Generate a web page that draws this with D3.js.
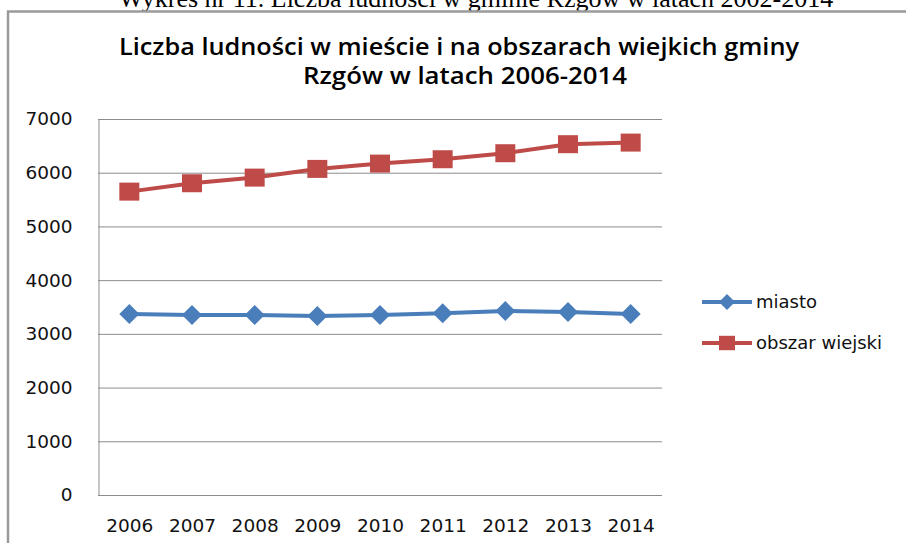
<!DOCTYPE html>
<html lang="pl">
<head>
<meta charset="UTF-8">
<title>Liczba ludności gminy Rzgów</title>
<style>
  html, body { margin: 0; padding: 0; background: #fff; }
  svg { display: block; }
</style>
</head>
<body>
<div id="chart"></div>
<script src="https://d3js.org/d3.v7.min.js"></script>
<script>
const years = ['2006', '2007', '2008', '2009', '2010', '2011', '2012', '2013', '2014'];
const miasto = [3370, 3352, 3352, 3333, 3352, 3383, 3426, 3408, 3370];
const obszarWiejski = [5648, 5804, 5909, 6071, 6170, 6251, 6363, 6531, 6561];
const yTicks = [0, 1000, 2000, 3000, 4000, 5000, 6000, 7000];
const seriesNames = ['miasto', 'obszar wiejski'];

const W = 906, H = 543;
const plot = { left: 98, right: 662, top: 119, bottom: 495 };

const svg = d3.select('#chart').append('svg')
  .attr('width', W).attr('height', H);

// caption of the document, cut off at the top in the scan
svg.append('text')
  .attr('x', 476).attr('y', 7)
  .attr('text-anchor', 'middle')
  .attr('font-family', '"Liberation Serif", serif')
  .attr('font-size', 26)
  .attr('fill', '#000')
  .text('Wykres nr 11. Liczba ludności w gminie Rzgów w latach 2002-2014');

// chart frame
svg.append('path')
  .attr('d', `M8,${H} V11.5 H${W}`)
  .attr('fill', 'none')
  .attr('stroke', '#9a9a9a')
  .attr('stroke-width', 2.5);

// title (scan is stretched horizontally, so stretch the text to match)
const title = svg.append('text')
  .attr('text-anchor', 'middle')
  .attr('font-family', '"Open Sans", sans-serif')
  .attr('font-size', 22.5)
  .attr('font-weight', 600)
  .attr('fill', '#000');
title.append('tspan').attr('x', 459).attr('y', 55)
  .attr('textLength', 680).attr('lengthAdjust', 'spacingAndGlyphs')
  .text('Liczba ludności w mieście i na obszarach wiejkich gminy');
title.append('tspan').attr('x', 465).attr('y', 84)
  .attr('textLength', 324).attr('lengthAdjust', 'spacingAndGlyphs')
  .text('Rzgów w latach 2006-2014');

const x = d3.scalePoint().domain(years)
  .range([plot.left, plot.right]).padding(0.5);
const y = d3.scaleLinear().domain([0, 7000])
  .range([plot.bottom, plot.top]);

// gridlines
svg.append('g')
  .selectAll('line')
  .data(yTicks.filter(d => d > 0))
  .join('line')
  .attr('x1', plot.left).attr('x2', plot.right)
  .attr('y1', d => y(d) + 0.5).attr('y2', d => y(d) + 0.5)
  .attr('stroke', '#8c8c8c').attr('stroke-width', 1);

// y axis
const yAxis = svg.append('g')
  .attr('transform', `translate(${plot.left + 0.5},0)`)
  .call(d3.axisLeft(y).tickValues(yTicks).tickFormat(d3.format('d'))
    .tickSize(0).tickPadding(26));
yAxis.select('.domain').attr('stroke', '#8c8c8c');
yAxis.selectAll('text')
  .attr('font-family', '"DejaVu Sans", sans-serif')
  .attr('font-size', 18.5)
  .attr('fill', '#111');

// x axis
const xAxis = svg.append('g')
  .attr('transform', `translate(0,${plot.bottom + 0.5})`)
  .call(d3.axisBottom(x).tickSize(0).tickPadding(23));
xAxis.select('.domain').attr('stroke', '#8c8c8c')
  .attr('d', `M${plot.left},0H${plot.right}`);
xAxis.selectAll('text')
  .attr('font-family', '"DejaVu Sans", sans-serif')
  .attr('font-size', 18.5)
  .attr('fill', '#111');

const series = [
  { name: seriesNames[0], values: miasto, color: '#4a7ebb', shape: 'diamond' },
  { name: seriesNames[1], values: obszarWiejski, color: '#be4b48', shape: 'square' }
];

const line = d3.line()
  .x((d, i) => x(years[i]))
  .y(d => y(d));

function markerPath(shape, r) {
  if (shape === 'square') return `M${-r},${-r * 0.9}H${r}V${r * 0.9}H${-r}Z`;
  return `M0,${-r}L${r},0L0,${r}L${-r},0Z`;
}

series.forEach(s => {
  svg.append('path')
    .datum(s.values)
    .attr('d', line)
    .attr('fill', 'none')
    .attr('stroke', s.color)
    .attr('stroke-width', 4);

  svg.append('g')
    .selectAll('path')
    .data(s.values)
    .join('path')
    .attr('transform', (d, i) => `translate(${x(years[i])},${y(d)})`)
    .attr('d', markerPath(s.shape, 10))
    .attr('fill', s.color);
});

// legend
const legend = svg.append('g');
series.forEach((s, i) => {
  const g = legend.append('g')
    .attr('transform', `translate(702,${302 + i * 41})`);
  g.append('line')
    .attr('x1', 0).attr('x2', 50)
    .attr('stroke', s.color).attr('stroke-width', 4);
  g.append('path')
    .attr('transform', 'translate(25,0)')
    .attr('d', markerPath(s.shape, 8))
    .attr('fill', s.color);
  g.append('text')
    .attr('x', 54).attr('y', 0)
    .attr('dy', '0.35em')
    .attr('font-family', '"DejaVu Sans", sans-serif')
    .attr('font-size', 18)
    .attr('fill', '#111')
    .text(s.name);
});
</script>
</body>
</html>
